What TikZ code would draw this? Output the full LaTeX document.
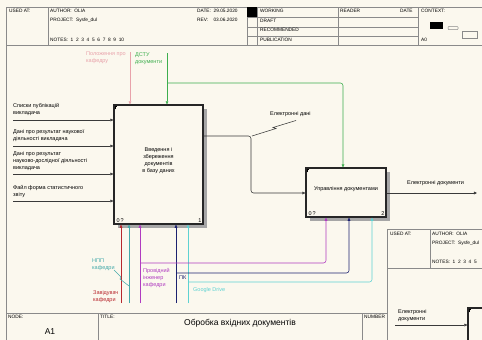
\documentclass[tikz,border=0pt]{standalone}
\usepackage{fontspec}
\setmainfont{Liberation Sans}
\usetikzlibrary{arrows.meta,calc}
\definecolor{bg}{HTML}{FBF8EE}
\definecolor{frm}{HTML}{8A8A8A}
\definecolor{cpink}{HTML}{E8A2AA}
\definecolor{cgreen}{HTML}{3DAE4E}
\definecolor{cred}{HTML}{B8282E}
\definecolor{cteal}{HTML}{45AAAA}
\definecolor{cmag}{HTML}{B03CC0}
\definecolor{cnavy}{HTML}{1C2270}
\definecolor{ccyan}{HTML}{5ED2D2}
\definecolor{cline}{HTML}{3A3A3A}
\begin{document}
\begin{tikzpicture}[x=1pt,y=-1pt,
  tiny/.style={font=\fontsize{5.5}{7}\selectfont, align=left, inner sep=0pt, anchor=north west},
  hdr/.style={font=\fontsize{4.8}{6}\selectfont, inner sep=0pt, anchor=north west},
  frame/.style={draw=frm, line width=0.6pt},
  arr/.style={-{Triangle[length=3.2pt,width=2.8pt]}, line width=0.55pt, rounded corners=2.5pt},
  plain/.style={line width=0.55pt},
  actbox/.style={draw=black!85, line width=1.1pt, fill=bg, inner sep=0pt, align=center,
                 font=\fontsize{5.5}{7}\selectfont},
  shadow/.style={fill=black!35}
]
\fill[bg] (0,0) rectangle (482,340);
\clip (0,0) rectangle (482,340);
\useasboundingbox (0,0) rectangle (482,340);

% ---------- header ----------
\draw[frame] (6,7) -- (482,7);
\draw[frame] (6,7) -- (6,340);
\draw[frame] (6,45) -- (482,45);
\draw[frame] (48,7) -- (48,45);
\draw[frame] (247,7) -- (247,45);
\draw[frame] (257,7) -- (257,45);
\draw[frame] (338,7) -- (338,45);
\draw[frame] (418,7) -- (418,45);
\draw[frame] (247,17) -- (418,17);
\draw[frame] (247,27) -- (418,27);
\draw[frame] (247,36) -- (418,36);
\fill[black] (247,7) rectangle (257,17);
\node[hdr] (usedat) at (9,9) {USED AT:};
\node[hdr] (author) at (50,9) {AUTHOR:\ \ OLIA};
\node[hdr] (project) at (50,18) {PROJECT:\ \ Sysfe\_dul};
\node[hdr] (notes) at (50,38) {NOTES:\ \ 1\ \ 2\ \ 3\ \ 4\ \ 5\ \ 6\ \ 7\ \ 8\ \ 9\ \ 10};
\node[hdr] (date) at (197,9) {DATE:\ \ 29.05.2020};
\node[hdr] (rev) at (197,18) {REV:\ \ \ \ 03.06.2020};
\node[hdr] (working) at (260,9) {WORKING};
\node[hdr] (draft) at (260,19) {DRAFT};
\node[hdr] (recom) at (260,28) {RECOMMENDED};
\node[hdr] (publ) at (260,38) {PUBLICATION};
\node[hdr] (reader) at (340,9) {READER};
\node[hdr] (rdate) at (400,9) {DATE};
\node[hdr] (context) at (421,9) {CONTEXT:};
\node[hdr] (a0) at (421,38) {A0};
\fill[black] (430,22) rectangle (443,29);
\draw[frm, line width=0.5pt, rounded corners=0.8pt] (448,26.5) rectangle (458,29.5);
\draw[frm, line width=0.6pt] (462,31) rectangle (477,38);

% ---------- footer ----------
\draw[frame] (6,313) -- (387,313);
\draw[frame] (98,313) -- (98,340);
\draw[frame] (362,313) -- (362,340);
\draw[frame] (387,229) -- (387,340);
\node[hdr] (nodelbl) at (8,315) {NODE:};
\node[font=\fontsize{8.5}{10}\selectfont, inner sep=0pt] (a1) at (50,332) {A1};
\node[hdr] (titlelbl) at (100,315) {TITLE:};
\node[font=\fontsize{8.5}{10}\selectfont, inner sep=0pt] (title) at (240,323) {Обробка вхідних документів};
\node[hdr] (number) at (364,315) {NUMBER};

% ---------- second sheet (partial) ----------
\draw[frame] (387,229) -- (482,229);
\draw[frame] (430,229) -- (430,268);
\draw[frame] (387,268) -- (482,268);
\node[hdr] (usedat2) at (390,232) {USED AT:};
\node[hdr] (author2) at (432,232) {AUTHOR:\ \ OLIA};
\node[hdr] (project2) at (432,241) {PROJECT:\ \ Sysfe\_dul};
\node[hdr] (notes2) at (432,260) {NOTES:\ \ 1\ \ 2\ \ 3\ \ 4\ \ 5};
\node[actbox, minimum width=40pt, minimum height=40pt] (b3) at (488,328) {};
\draw[line width=0.5pt] ($(b3.north west)+(1.5,5)$) -- ($(b3.north west)+(1.5,1.5)$) -- ($(b3.north west)+(4,1.5)$);
\coordinate (e3) at (395,325);
\draw[arr, cline] (e3) -- (e3 -| b3.west);
\node[tiny] (e3lbl) at (398,309) {Електронні\\документи};

% ---------- activity boxes ----------
\fill[shadow] (118,109) rectangle (207,228);
\node[actbox, minimum width=89pt, minimum height=119pt] (b1) at (158.5,164.5) {};
\node[font=\fontsize{5.5}{7}\selectfont, align=center, inner sep=0pt] (b1txt) at (158.5,160.5)
  {Введення і\\збереження\\документів\\в базу даних};
\draw[line width=0.5pt] ($(b1.north west)+(1.5,5)$) -- ($(b1.north west)+(1.5,1.5)$) -- ($(b1.north west)+(4,1.5)$);
\node[tiny, anchor=south west] (b1n) at ($(b1.south west)+(3,-1.5)$) {0\,?};
\node[tiny, anchor=south east] (b1k) at ($(b1.south east)+(-2,-1.5)$) {1};

\fill[shadow] (310,172) rectangle (390,221);
\node[actbox, minimum width=80pt, minimum height=49pt] (b2) at (346,192.5) {};
\node[font=\fontsize{5.5}{7}\selectfont, inner sep=0pt] (b2txt) at (346,189.5) {Управління документами};
\draw[line width=0.5pt] ($(b2.north west)+(1.5,5)$) -- ($(b2.north west)+(1.5,1.5)$) -- ($(b2.north west)+(4,1.5)$);
\node[tiny, anchor=south west] (b2n) at ($(b2.south west)+(3,-1.5)$) {0\,?};
\node[tiny, anchor=south east] (b2k) at ($(b2.south east)+(-2,-1.5)$) {2};

% ---------- inputs of box 1 ----------
\coordinate (i1) at (13,120);
\coordinate (i2) at (13,146);
\coordinate (i3) at (13,174);
\coordinate (i4) at (13,201);
\foreach \c in {i1,i2,i3,i4} \draw[arr, cline] (\c) -- (\c -| b1.west);
\node[tiny] (l1) at (13,103) {Списки публікацій\\викладача};
\node[tiny] (l2) at (13,129) {Дані про результат наукової\\діяльності викладача};
\node[tiny] (l3) at (13,151) {Дані про результат\\науково-дослідної діяльності\\викладача};
\node[tiny] (l4) at (13,185) {Файл форма статистичного\\звіту};

% ---------- controls ----------
\coordinate (cp) at (130,52);
\draw[arr, cpink] (cp) -- (cp |- b1.north);
\node[tiny, text=cpink] (lp) at (86,52) {Положення про\\кафедру};
\coordinate (cg) at (167,53);
\draw[arr, cgreen] (cg) -- (cg |- b1.north);
\node[tiny, text=cgreen] (lg) at (135,52) {ДСТУ\\документи};
\coordinate (cgb) at (167,83);
\coordinate (cg2) at (343,83);
\draw[arr, cgreen] (cgb) -- (cg2) -- (cg2 |- b2.north);

% ---------- box1 -> box2 ----------
\coordinate (o1) at (251,136);
\coordinate (o1b) at (251,193);
\draw[arr, cline] (o1 -| b1.east) -- (o1) -- (o1b) -- (o1b -| b2.west);
\draw[plain, cline] (252,136) -- (276,128.5) -- (273,127.5) -- (296,120.5);
\node[tiny] (ledan) at (270,111.5) {Електронні дані};

% ---------- output of box 2 ----------
\coordinate (o2) at (477,193);
\draw[arr, cline] (o2 -| b2.east) -- (o2);
\node[tiny] (ledoc) at (407,180) {Електронні документи};

% ---------- mechanisms ----------
\coordinate (mr) at (121,303);
\coordinate (mt) at (129,303);
\coordinate (mm) at (140,303);
\coordinate (mn) at (176,303);
\coordinate (mc) at (188,303);
\draw[arr, cred] (mr) -- (mr |- b1.south);
\draw[arr, cteal] (mt) -- (mt |- b1.south);
\draw[arr, cmag] (mm) -- (mm |- b1.south);
\draw[arr, cnavy] (mn) -- (mn |- b1.south);
\draw[arr, ccyan] (mc) -- (mc |- b1.south);

\coordinate (mmb) at (140,263);
\coordinate (mm2) at (326,263);
\draw[arr, cmag] (mmb) -- (mm2) -- (mm2 |- b2.south);
\coordinate (mnb) at (176,273);
\coordinate (mn2) at (349,273);
\draw[arr, cnavy] (mnb) -- (mn2) -- (mn2 |- b2.south);
\coordinate (mcb) at (188,282);
\coordinate (mc2) at (372,282);
\draw[arr, ccyan] (mcb) -- (mc2) -- (mc2 |- b2.south);

\node[tiny, text=cteal] (lt) at (92,259) {НПП\\кафедри};
\draw[plain, cteal] (114,270) -- (121,277) -- (120,279) -- (129,286);
\node[tiny, text=cred] (lr) at (93,290) {Завідувач\\кафедри};
\node[tiny, text=cmag] (lm) at (143,268) {Провідний\\інженер\\кафедри};
\node[tiny, text=cnavy] (ln) at (179,276) {ПК};
\node[tiny, text=ccyan] (lc) at (193,287) {Google Drive};
\end{tikzpicture}
\end{document}
